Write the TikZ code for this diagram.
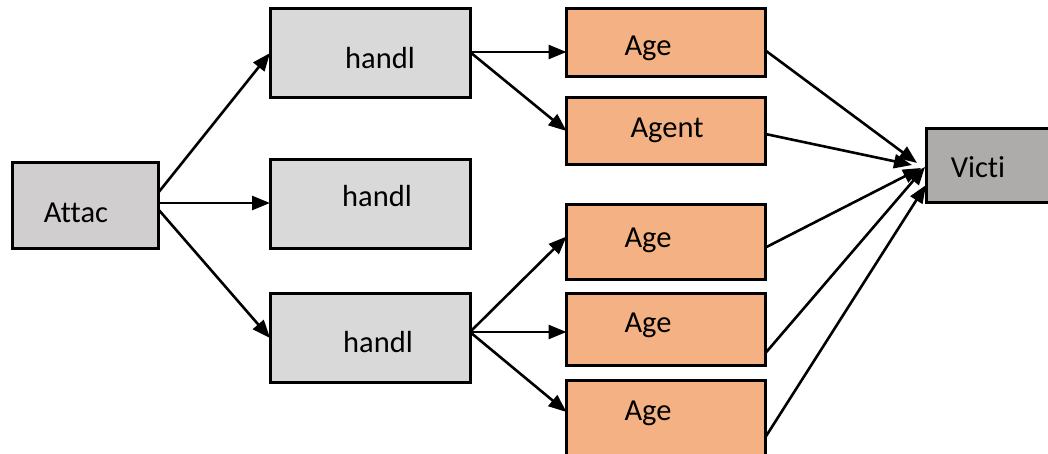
\documentclass[tikz,border=0pt]{standalone}
\usepackage{fontspec}
\setmainfont[Ligatures=NoCommon]{Carlito}
\usetikzlibrary{arrows.meta}
\definecolor{gfill}{HTML}{D9D9D9}
\definecolor{afill}{HTML}{D0CECE}
\definecolor{ofill}{HTML}{F4B183}
\definecolor{vfill}{HTML}{AEABAB}
\tikzset{
  box/.style={draw=black, line width=3pt, inner sep=0pt, outer sep=0pt},
  gbox/.style={box, fill=gfill, minimum width=200pt, minimum height=89pt},
  obox/.style={box, fill=ofill, minimum width=199pt},
  txt/.style={inner sep=0pt, font=\fontsize{30.5}{36}\selectfont},
  arr/.style={line width=2.6pt, -{Triangle[length=18pt,width=14pt]}},
}
\begin{document}
\begin{tikzpicture}[x=1pt,y=-1pt]
\useasboundingbox (0,0) rectangle (1048,453);
\clip (0,0) rectangle (1048,453);
% boxes
\node[box, fill=afill, minimum width=146pt, minimum height=86pt] (at) at (85,205) {};
\node[gbox] (h1) at (370,53) {};
\node[gbox] (h2) at (370,203.5) {};
\node[gbox] (h3) at (370,338) {};
\node[obox, minimum height=68pt] (a1) at (666,42.5) {};
\node[obox, minimum height=67pt] (a2) at (666,131) {};
\node[obox, minimum height=75pt] (a3) at (666,241.5) {};
\node[obox, minimum height=72pt] (a4) at (666,329) {};
\node[obox, minimum height=90pt] (a5) at (666,425) {};
\node[box, fill=vfill, minimum width=140pt, minimum height=74pt] (vi) at (996,165) {};
% texts
\node[txt] (att) at (76,213) {Attac};
\node[txt] (h1t) at (380,58) {handl};
\node[txt] (h2t) at (377,196) {handl};
\node[txt] (h3t) at (378,342) {handl};
\node[txt] (a1t) at (648,48) {Age};
\node[txt] (a2t) at (667,130) {Agent};
\node[txt] (a3t) at (648,240) {Age};
\node[txt] (a4t) at (648,325) {Age};
\node[txt] (a5t) at (648,413) {Age};
\node[txt] (vit) at (978,167) {Victi};
% connector ends
\coordinate (atA) at ([yshift=12pt]at.east);
\coordinate (atB) at ([yshift=2pt]at.east);
\coordinate (atC) at ([yshift=-4pt]at.east);
\coordinate (h1o) at ([yshift=1pt]h1.east);
\coordinate (h3o) at ([yshift=6pt]h3.east);
\coordinate (v1) at (917,163);
\coordinate (v2) at (912,165);
\coordinate (v3) at (921,168);
\coordinate (v4) at (925,167);
\coordinate (v5) at (926,185);
% connectors
\draw[arr] (atA) -- (h1.west);
\draw[arr] (atB) -- (atB -| h2.west);
\draw[arr] (atC) -- (h3.west);
\draw[arr] (h1o) -- (h1o -| a1.west);
\draw[arr] (h1o) -- (a2.west);
\draw[arr] (h3o) -- ([yshift=5pt]a3.west);
\draw[arr] (h3o) -- (h3o -| a4.west);
\draw[arr] (h3o) -- ([yshift=13pt]a5.west);
\draw[arr] ([yshift=-8pt]a1.east) -- (v1);
\draw[arr] ([yshift=-3pt]a2.east) -- (v2);
\draw[arr] ([yshift=-6pt]a3.east) -- (v3);
\draw[arr] ([yshift=-24pt]a4.east) -- (v4);
\draw[arr] ([yshift=-12pt]a5.east) -- (v5);
\end{tikzpicture}
\end{document}
